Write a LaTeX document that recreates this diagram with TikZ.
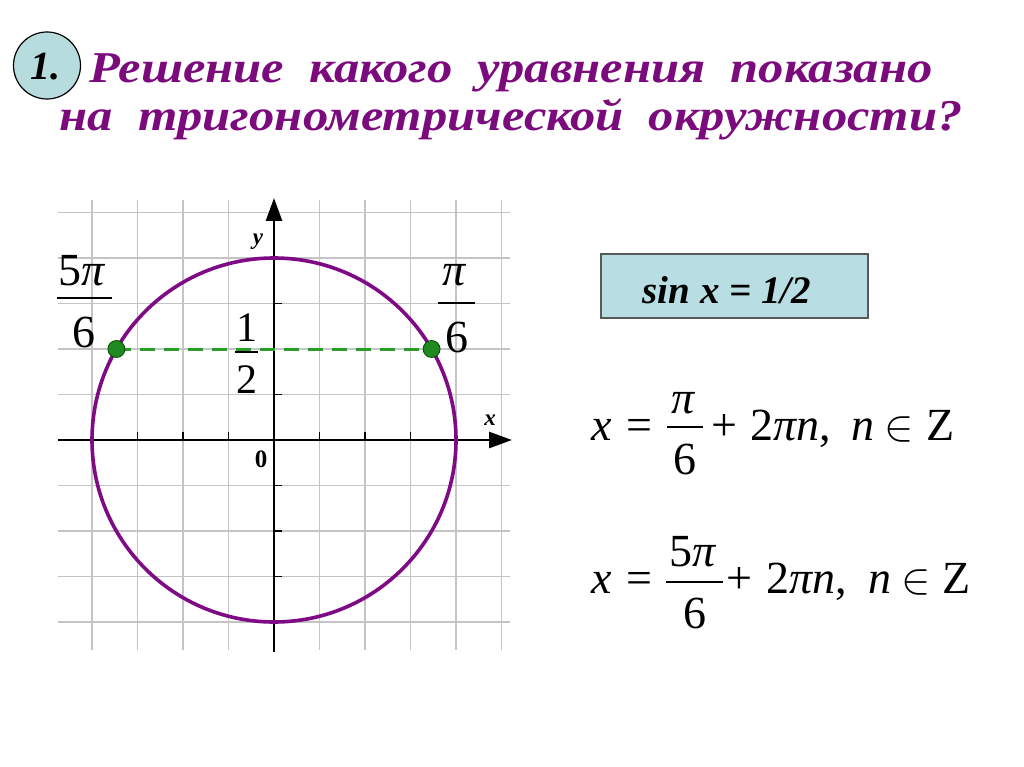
\documentclass[tikz,border=0pt]{standalone}
\usepackage{fontspec}
\usepackage{graphicx}
\setmainfont{Liberation Serif}
\newfontfamily\ttlfont[FakeStretch=1.15]{Liberation Serif}
\usetikzlibrary{arrows.meta}
\definecolor{ttlc}{HTML}{7B0A7D}
\definecolor{circc}{HTML}{7E0A86}
\definecolor{grnc}{HTML}{2C9A2C}
\definecolor{dotc}{HTML}{1F8A1F}
\definecolor{boxc}{HTML}{B8DEE3}
\definecolor{numc}{HTML}{B7DCDD}
\definecolor{grdc}{HTML}{C4C4C4}
\newcommand\fsz[1]{\fontsize{#1}{#1}\selectfont}
\newcommand\bigin{\scalebox{4.4}{\fontsize{10}{12}\selectfont$\in$}}
\tikzset{
  gridline/.style={draw=grdc, line width=1.4pt},
  axisline/.style={draw=black, line width=2.6pt, -{Triangle[length=23pt,width=16pt]}},
  tickline/.style={draw=black, line width=1.5pt},
  unitcirc/.style={draw=circc, line width=3.6pt},
  ptdot/.style={circle, draw=black!70!green, fill=dotc, line width=0.8pt, minimum width=17pt, minimum height=15pt, inner sep=0},
  dashg/.style={draw=grnc, line width=3pt, dash pattern=on 15pt off 9pt},
  lbl/.style={inner sep=0, anchor=base},
  fbar/.style={draw=black, line width=1.3pt},
  ttl/.style={inner sep=0, anchor=base, text=ttlc, font=\ttlfont\fsz{44}\bfseries\itshape},
  fml/.style={inner sep=0, anchor=base, font=\fsz{46}},
  fmw/.style={inner sep=0, anchor=base west, font=\fsz{46}},
  axl/.style={inner sep=0, anchor=base, font=\fsz{23}\bfseries\itshape}
}
\begin{document}
\begin{tikzpicture}[x=1pt,y=-1pt]
\useasboundingbox (0,0) rectangle (1024,767);
\fill[white] (0,0) rectangle (1024,767);
% number badge
\node[circle, draw=black, line width=1.2pt, fill=numc, minimum size=67pt, inner sep=0] (badge) at (47,65.5) {};
\node[lbl, font=\fsz{40}\bfseries\itshape] (num) at (45,80) {1.};
% title
\node[ttl] (t1) at (511,83) {Решение\ \ какого\ \ уравнения\ \ показано};
\node[ttl] (t2) at (511,131) {на\ \ тригонометрической\ \ окружности?};
% grid
\foreach \k in {-4,...,5} \draw[gridline] ({274+45.5*\k},200) -- ({274+45.5*\k},650);
\foreach \k in {-5,...,4} \draw[gridline] (58,{440+45.5*\k}) -- (510,{440+45.5*\k});
% ticks
\foreach \k in {-3,-2,-1,1,2,3} \draw[tickline] ({274+45.5*\k},440) -- ({274+45.5*\k},432);
\foreach \k in {-3,-1,1,2,3} \draw[tickline] (274,{440+45.5*\k}) -- (282,{440+45.5*\k});
% axes
\coordinate (xs) at (58,440); \coordinate (xe) at (512,440);
\coordinate (ys) at (274,652); \coordinate (ye) at (274,198);
\draw[axisline] (xs) -- (xe);
\draw[axisline] (ys) -- (ye);
\node[axl] (ylab) at (258,244) {y};
\node[axl] (xlab) at (490,425) {x};
\node[lbl, font=\fsz{25}\bfseries] (zero) at (261,467) {0};
% circle
\draw[unitcirc] (274,440) circle[radius=182];
% points and chord
\coordinate (pa) at (116.4,349);
\coordinate (pb) at (431.6,349);
\draw[dashg] (pa) -- (pb);
\node[ptdot] (A) at (pa) {};
\node[ptdot] (B) at (pb) {};
% labels 5pi/6
\node[lbl, font=\fsz{46}] (n5) at (82,285) {5\textit{π}};
\draw[fbar] (57,298) -- (112,298);
\node[lbl, font=\fsz{46}] (d5) at (84,347) {6};
% pi/6
\node[lbl, font=\fsz{46}] (n1) at (455,285) {\textit{π}};
\draw[fbar] (438,303) -- (475,303);
\node[lbl, font=\fsz{46}] (d1) at (457,352) {6};
% 1/2
\node[lbl, font=\fsz{42}] (h1) at (247,341) {1};
\draw[fbar] (235,352) -- (258,352);
\node[lbl, font=\fsz{42}] (h2) at (247,393) {2};
% box
\node[draw=black!65, line width=1.2pt, fill=boxc, minimum width=267pt, minimum height=64pt, inner sep=0] (bx) at (734.5,286) {};
\node[lbl, font=\fsz{39}\bfseries\itshape] (eq) at (727,303) {sin x = 1/2};
% formula 1
\node[fmw] (f1x) at (591,440) {\textit{x}};
\node[fmw] (f1e) at (626,440) {=};
\node[fml] (f1n) at (684,413) {\textit{π}};
\draw[fbar] (667,427) -- (703,427);
\node[fml] (f1d) at (685,474) {6};
\node[fmw] (f1p) at (711,440) {+};
\node[fmw] (f1b) at (750,440) {2\textit{πn},};
\node[fmw] (f1m) at (851,440) {\textit{n}};
\node[fmw] (f1i) at (884,440) {\bigin};
\node[fmw] (f1z) at (926,440) {Z};
% formula 2
\node[fmw] (f2x) at (591,593) {\textit{x}};
\node[fmw] (f2e) at (626,593) {=};
\node[fml] (f2n) at (693,566) {5\textit{π}};
\draw[fbar] (666,582) -- (723,582);
\node[fml] (f2d) at (695,628) {6};
\node[fmw] (f2p) at (726,593) {+};
\node[fmw] (f2b) at (766,593) {2\textit{πn},};
\node[fmw] (f2m) at (868,593) {\textit{n}};
\node[fmw] (f2i) at (901,593) {\bigin};
\node[fmw] (f2z) at (942,593) {Z};
\end{tikzpicture}
\end{document}
